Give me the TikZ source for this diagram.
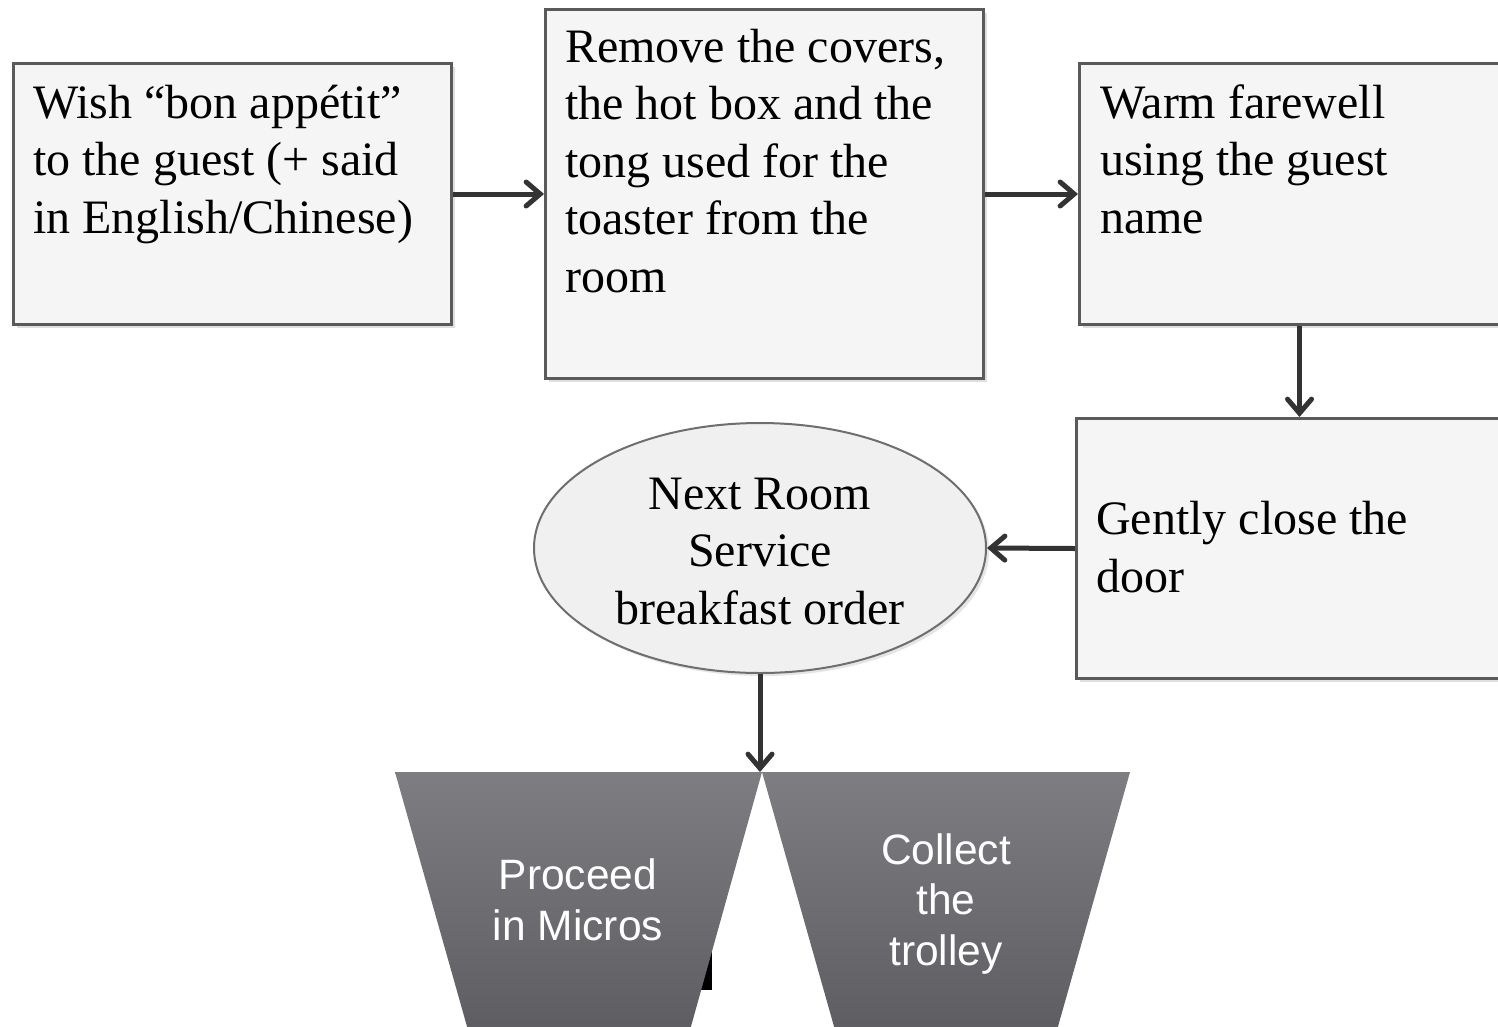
\documentclass[tikz,border=0pt]{standalone}
\usepackage{fontspec}
\setmainfont{Liberation Serif}
\setsansfont{Liberation Sans}
\usetikzlibrary{arrows.meta,shapes.geometric,shadows,calc}

\definecolor{boxline}{HTML}{5A5A5A}
\definecolor{boxfill}{HTML}{F5F5F5}
\definecolor{ellline}{HTML}{6E6E6E}
\definecolor{ellfill}{HTML}{F0F0F0}
\definecolor{arrowcol}{HTML}{333333}
\definecolor{trtop}{HTML}{7E7D82}
\definecolor{trbot}{HTML}{5E5D62}

\begin{document}
\begin{tikzpicture}[x=1pt,y=-1pt,
  stepbox/.style={rectangle, draw=boxline, line width=3pt, fill=boxfill,
    inner sep=0pt, anchor=north west,
    drop shadow={shadow xshift=3pt, shadow yshift=-3pt, opacity=0.25}},
  % multi-line nodes: the base anchor sits on the last line
  boxtext/.style={anchor=base west, align=left, inner sep=0pt,
    font=\fontsize{48}{57.5}\selectfont},
  flow/.style={draw=arrowcol, line width=5pt,
    -{Straight Barb[length=14pt,width=24pt,line width=5pt,line cap=round]}},
  trap/.style={top color=trtop, bottom color=trbot},
  traptext/.style={align=center, inner sep=0pt, anchor=base, text=white,
    font=\sffamily\fontsize{42.5}{50.5}\selectfont}]

% canvas
\useasboundingbox (0,0) rectangle (1498,1026);
\clip (0,0) rectangle (1498,1026);
\fill[white] (0,0) rectangle (1498,1026);

% process boxes
\node[stepbox, minimum width=438pt, minimum height=261pt] (b1) at (12,62) {};
\node[stepbox, minimum width=438pt, minimum height=369pt] (b2) at (544,8) {};
\node[stepbox, minimum width=440pt, minimum height=261pt] (b3) at (1078,62) {};
\node[stepbox, minimum width=440pt, minimum height=260pt] (b4) at (1075,417) {};

\node[boxtext] (t1) at (33,233) {Wish “bon appétit”\\to the guest (+ said\\in English/Chinese)};
\node[boxtext] (t2) at (565,292) {Remove the covers,\\the hot box and the\\tong used for the\\toaster from the\\room};
\node[boxtext] (t3) at (1100,233) {Warm farewell\\using the guest\\name};
\node[boxtext] (t4) at (1096,592) {Gently close the\\door};

% terminal ellipse
\node[ellipse, draw=ellline, line width=2pt, fill=ellfill, minimum width=452pt,
  minimum height=250pt, inner sep=0pt,
  drop shadow={shadow xshift=3pt, shadow yshift=-3pt, opacity=0.2}] (e) at (760,548) {};
\node[boxtext, anchor=base, align=center] (te) at (760,624) {Next Room\\Service\\breakfast order};

% final trapezoids
\fill[black] (694,945) rectangle (712,990);
\shade[trap] (395,772) -- (762,772) -- (690,1030) -- (468,1030) -- cycle;
\shade[trap] (762,772) -- (1130,772) -- (1057,1030) -- (835,1030) -- cycle;
\coordinate (tz) at (762,772);
\node[traptext] (p1) at (578,940) {Proceed\\in Micros};
\node[traptext] (p2) at (946,965) {Collect\\the\\trolley};

% connectors
\draw[flow] (b1.east) -- (b2.west |- b1.east);
\draw[flow] (b2.east |- b3.west) -- (b3.west);
\draw[flow] (b3.south) -- (b3.south |- b4.north);
\draw[flow] (b4.west) -- (e.east);
\draw[flow] (e.south) -- (e.south |- tz);
\end{tikzpicture}
\end{document}
